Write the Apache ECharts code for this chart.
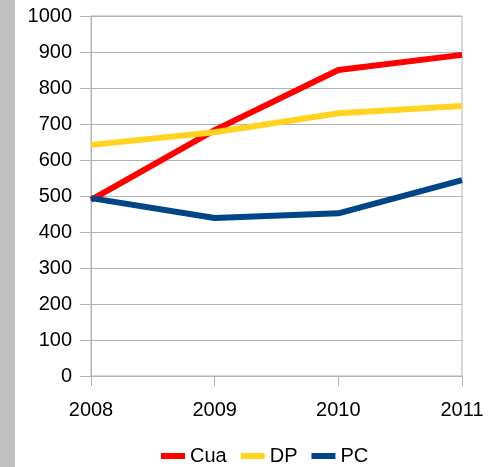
<!DOCTYPE html>
<html>
<head>
<meta charset="utf-8">
<script src="https://cdn.jsdelivr.net/npm/echarts@6/dist/echarts.min.js"></script>
<style>
  html, body { margin: 0; padding: 0; background: #fff; }
  #chart { width: 501px; height: 467px; }
</style>
</head>
<body>
<div id="chart"></div>
<script>
  const years = ["2008", "2009", "2010", "2011"];
  const cua = [489, 683, 850, 892];
  const dp = [642, 677, 730, 750];
  const pc = [494, 439, 452, 544];

  const chart = echarts.init(document.getElementById("chart"));
  const font = "Liberation Sans, Arial, sans-serif";

  chart.setOption({
    animation: false,
    backgroundColor: "#fff",
    textStyle: { fontFamily: font },
    graphic: [
      // grey strip on the left edge
      { type: "rect", left: 0, top: 0, shape: { width: 15, height: 467 }, style: { fill: "#c0c0c0" } },
    ],
    grid: {
      left: 91,
      right: 39,
      top: 16,
      bottom: 91,
      show: true,
      borderColor: "#b3b3b3",
      borderWidth: 1,
    },
    legend: {
      left: 156,
      top: 441,
      icon: "rect",
      itemWidth: 24,
      itemHeight: 6,
      itemGap: 14,
      textStyle: { fontSize: 20, color: "#000", fontFamily: font },
      data: ["Cua", "DP", "PC"],
    },
    xAxis: {
      type: "category",
      data: years,
      boundaryGap: false,
      axisLine: { lineStyle: { color: "#b3b3b3" } },
      axisTick: { show: true, length: 10, alignWithLabel: true, lineStyle: { color: "#b3b3b3" } },
      axisLabel: { fontSize: 20, color: "#000", margin: 24, fontFamily: font },
      splitLine: { show: false },
    },
    yAxis: {
      type: "value",
      min: 0,
      max: 1000,
      interval: 100,
      axisLine: { show: true, lineStyle: { color: "#b3b3b3" } },
      axisTick: { show: true, length: 11, lineStyle: { color: "#b3b3b3" } },
      axisLabel: { fontSize: 20, color: "#000", margin: 19, fontFamily: font, formatter: (v) => String(v) },
      splitLine: { show: true, lineStyle: { color: "#b3b3b3" } },
    },
    series: [
      { name: "Cua", type: "line", data: cua, showSymbol: false, color: "#ff0000", lineStyle: { width: 6 } },
      { name: "DP", type: "line", data: dp, showSymbol: false, color: "#ffd320", lineStyle: { width: 6 } },
      { name: "PC", type: "line", data: pc, showSymbol: false, color: "#004586", lineStyle: { width: 6 } },
    ],
  });
</script>
</body>
</html>
